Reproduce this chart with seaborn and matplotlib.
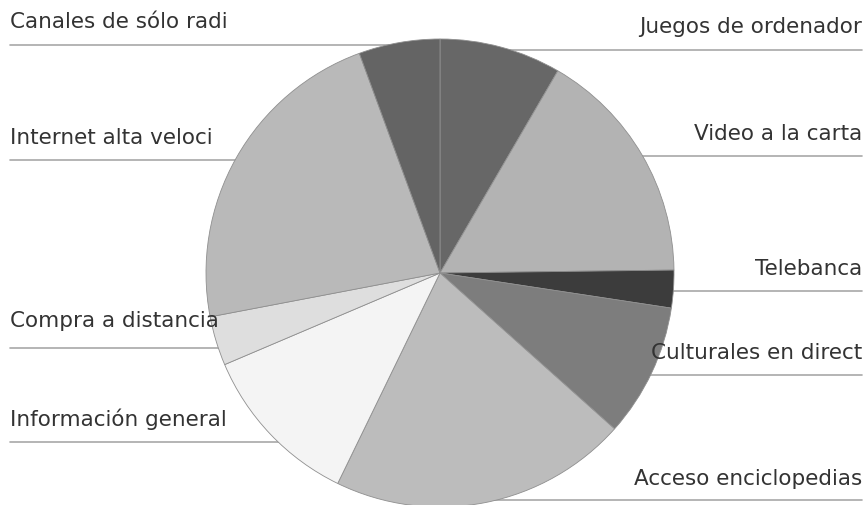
import matplotlib
matplotlib.use("Agg")
import matplotlib.pyplot as plt
import seaborn as sns

sns.set_theme(style="white")
plt.rcParams['font.family'] = ['DejaVu Sans']

# Slices in clockwise order starting at 12 o'clock
labels = ["Juegos de ordenador", "Video a la carta", "Telebanca",
          "Culturales en direct", "Acceso enciclopedias", "Información general",
          "Compra a distancia", "Internet alta veloci", "Canales de sólo radi"]
values = [8.4, 16.4, 2.6, 9.2, 20.6, 11.4, 3.4, 22.4, 5.6]
greys = ["#676767", "#b3b3b3", "#3c3c3c", "#7d7d7d", "#bcbcbc",
         "#f4f4f4", "#dedede", "#b9b9b9", "#646464"]

# Label rows: (text, text y, line y)
left_labels = ["Canales de sólo radi", "Internet alta veloci",
               "Compra a distancia", "Información general"]
left_text_y = [22, 138, 321, 419]
left_line_y = [45, 160, 348, 442]
right_labels = ["Juegos de ordenador", "Video a la carta", "Telebanca",
                "Culturales en direct", "Acceso enciclopedias"]
right_text_y = [27, 134, 269, 353, 479]
right_line_y = [50, 156, 291, 375, 500]

W, H = 866, 505
fig = plt.figure(figsize=(W / 100, H / 100), dpi=100)
ax = fig.add_axes([0, 0, 1, 1])

cx, cy, r = 440, 273, 234

for ly in left_line_y:
    ax.plot([10, cx], [ly, ly], color="#a8a8a8", lw=1.2, zorder=1)
for ly in right_line_y:
    ax.plot([cx, 862], [ly, ly], color="#a8a8a8", lw=1.2, zorder=1)

# y axis is inverted below, so a visually clockwise pie from 12 o'clock
# is counter-clockwise in data space starting at 270 degrees
wedges, _ = ax.pie(values, colors=greys, startangle=270, counterclock=True,
                   center=(cx, cy), radius=r, frame=True,
                   wedgeprops=dict(edgecolor="#8f8f8f", linewidth=0.6))
for w in wedges:
    w.set_zorder(2)
ax.set_xlim(0, W)
ax.set_ylim(H, 0)
ax.set_aspect("equal")
ax.axis("off")

for t, y in zip(left_labels, left_text_y):
    ax.text(10, y, t, ha="left", va="center", fontsize=15.5, color="#333333", zorder=3)
for t, y in zip(right_labels, right_text_y):
    ax.text(862, y, t, ha="right", va="center", fontsize=15.5, color="#333333", zorder=3)

fig.savefig("out.png", dpi=100, facecolor="white")
